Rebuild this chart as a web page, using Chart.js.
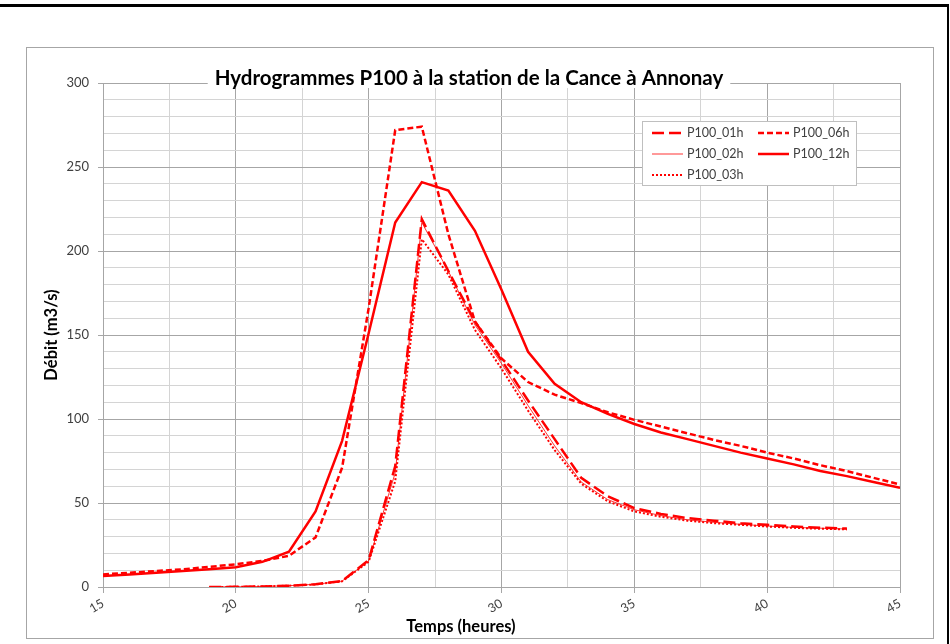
<!DOCTYPE html>
<html>
<head>
<meta charset="utf-8">
<script src="https://cdn.jsdelivr.net/npm/chart.js@4"></script>
<style>
  body { margin: 0; background: #fff; }
  #page { position: relative; width: 950px; height: 644px; overflow: hidden; }
  #topRule { position: absolute; left: 0; top: 4px; width: 949px; height: 3px; background: #000; }
  #rightRule { position: absolute; left: 947px; top: 4px; width: 2px; height: 640px; background: #000; }
  #frame { position: absolute; left: 26px; top: 47px; width: 906px; height: 590px; border: 1px solid #a6a6a6; }
  canvas { position: absolute; left: 0; top: 0; }
</style>
</head>
<body>
<div id="page">
  <div id="topRule"></div>
  <div id="rightRule"></div>
  <div id="frame"></div>
  <canvas id="chart" width="950" height="644"></canvas>
</div>
<script>
// Heures (axe X)
const hoursLong = [15, 16, 17, 18, 19, 20, 21, 22, 23, 24, 25, 26, 27, 28, 29, 30,
                   31, 32, 33, 34, 35, 36, 37, 38, 39, 40, 41, 42, 43, 44, 45];
const hoursShort = [19, 20, 21, 22, 23, 24, 25, 26, 27, 28, 29, 30, 31,
                    32, 33, 34, 35, 36, 37, 38, 39, 40, 41, 42, 43];

// Débits (m3/s)
const q01h = [0, 0.1, 0.3, 0.8, 1.6, 3.6, 16, 72, 219, 188, 158, 135, 111,
              88, 65, 54, 47, 43.5, 41, 39.5, 38, 37, 36, 35.3, 34.8];
const q02h = [0, 0.1, 0.3, 0.8, 1.6, 3.5, 15.5, 68, 217, 188, 156, 133, 108,
              84, 62.5, 52, 46, 42.5, 40, 38.5, 37.3, 36.3, 35.5, 35, 34.5];
const q03h = [0, 0.1, 0.3, 0.8, 1.5, 3.4, 15, 63, 207, 186, 153, 130, 105,
              81.5, 61.5, 51, 45, 41.8, 39.5, 38, 37, 36, 35.2, 34.7, 34.3];
const q06h = [7.5, 8.5, 9.5, 10.5, 12, 13.5, 15.5, 18.6, 29.5, 71, 166, 272, 274, 210, 158, 136,
              122, 114.5, 109.5, 104, 99.5, 95.5, 91.5, 87.5, 84, 80, 76.5, 72.5, 69, 65, 61];
const q12h = [6.5, 7.5, 8.5, 9.5, 10.5, 11.7, 15, 21, 45, 87, 151, 217, 241, 236, 212, 177,
              140, 121, 110, 103, 97, 92, 88, 84, 80, 76.5, 73, 69, 66, 62.5, 59];

const seriesLabels = ['P100_01h', 'P100_02h', 'P100_03h', 'P100_06h', 'P100_12h'];

const RED = '#ff0000';
const MAJOR = '#a6a6a6';
const MINOR = '#d4d4d4';
const FONT = 'Lato, "Open Sans", sans-serif';

const toPoints = (xs, ys) => xs.map((x, i) => ({ x, y: ys[i] }));

const datasets = [
  { label: seriesLabels[0], data: toPoints(hoursShort, q01h), borderColor: RED, borderWidth: 2.5, borderDash: [12, 5] },
  { label: seriesLabels[1], data: toPoints(hoursShort, q02h), borderColor: 'rgba(255,0,0,0.8)', borderWidth: 1, borderDash: [] },
  { label: seriesLabels[2], data: toPoints(hoursShort, q03h), borderColor: RED, borderWidth: 2, borderDash: [2, 2] },
  { label: seriesLabels[3], data: toPoints(hoursLong, q06h), borderColor: RED, borderWidth: 2.5, borderDash: [6, 3] },
  { label: seriesLabels[4], data: toPoints(hoursLong, q12h), borderColor: RED, borderWidth: 2.5, borderDash: [] }
].map(d => ({ ...d, pointRadius: 0, tension: 0, fill: false }));

// Titre + titre axe X + légende encadrée
const overlay = {
  id: 'overlay',
  afterDraw(chart) {
    const ctx = chart.ctx;
    ctx.save();

    // titre posé sur la grille
    const title = 'Hydrogrammes P100 à la station de la Cance à Annonay';
    ctx.font = 'bold 20.5px ' + FONT;
    const tw = ctx.measureText(title).width;
    const tx = 469, ty = 78;
    ctx.fillStyle = '#fff';
    ctx.fillRect(tx - tw / 2 - 7, ty - 14, tw + 14, 24);
    ctx.fillStyle = '#000';
    ctx.textAlign = 'center';
    ctx.textBaseline = 'middle';
    ctx.fillText(title, tx, ty);

    // titre axe X
    ctx.font = 'bold 16.5px ' + FONT;
    ctx.fillText('Temps (heures)', 461, 627);

    // légende
    const bx = 642.5, by = 121.5, bw = 214, bh = 64;
    ctx.fillStyle = '#fff';
    ctx.fillRect(bx, by, bw, bh);
    ctx.strokeStyle = '#bfbfbf';
    ctx.lineWidth = 1;
    ctx.strokeRect(bx, by, bw, bh);

    const slots = [[652, 133], [652, 154], [652, 175], [758, 133], [758, 154]];
    ctx.font = '12.5px ' + FONT;
    ctx.textAlign = 'left';
    chart.data.datasets.forEach((ds, i) => {
      const [lx, ly] = slots[i];
      ctx.beginPath();
      ctx.strokeStyle = ds.borderColor;
      ctx.lineWidth = ds.borderWidth;
      ctx.setLineDash(ds.borderDash);
      ctx.moveTo(lx, ly);
      ctx.lineTo(lx + 31, ly);
      ctx.stroke();
      ctx.setLineDash([]);
      ctx.fillStyle = '#404040';
      ctx.fillText(ds.label, lx + 35, ly);
    });
    ctx.restore();
  }
};

new Chart(document.getElementById('chart'), {
  type: 'line',
  data: { datasets },
  options: {
    responsive: false,
    animation: false,
    layout: { padding: { left: 27, top: 83, right: 50, bottom: 6 } },
    plugins: {
      legend: { display: false },
      title: { display: false },
      tooltip: { enabled: false }
    },
    scales: {
      x: {
        type: 'linear',
        min: 15,
        max: 45,
        afterFit: s => { s.height = 51; },
        ticks: {
          stepSize: 2.5,
          autoSkip: false,
          minRotation: 30,
          maxRotation: 30,
          padding: 3,
          color: '#404040',
          font: { family: FONT, size: 12.5 },
          callback: v => (v % 5 === 0 ? v : '')
        },
        grid: {
          color: c => (c.tick && c.tick.value % 5 === 0 ? MAJOR : MINOR),
          tickColor: c => (c.tick && c.tick.value % 5 === 0 ? MAJOR : 'transparent'),
          tickLength: 6
        },
        border: { color: MAJOR }
      },
      y: {
        min: 0,
        max: 300,
        afterFit: s => { s.width = 76; },
        ticks: {
          stepSize: 10,
          autoSkip: false,
          padding: 9,
          color: '#404040',
          font: { family: FONT, size: 13 },
          callback: v => (v % 50 === 0 ? v : '')
        },
        grid: {
          color: c => (c.tick && c.tick.value % 50 === 0 ? MAJOR : MINOR),
          tickColor: c => (c.tick && c.tick.value % 50 === 0 ? MAJOR : 'transparent'),
          tickLength: 5
        },
        border: { color: MAJOR },
        title: {
          display: true,
          text: 'Débit (m3/s)',
          color: '#000',
          font: { family: FONT, size: 16.5, weight: 'bold' },
          padding: { top: 15 }
        }
      }
    }
  },
  plugins: [overlay]
});
</script>
</body>
</html>
